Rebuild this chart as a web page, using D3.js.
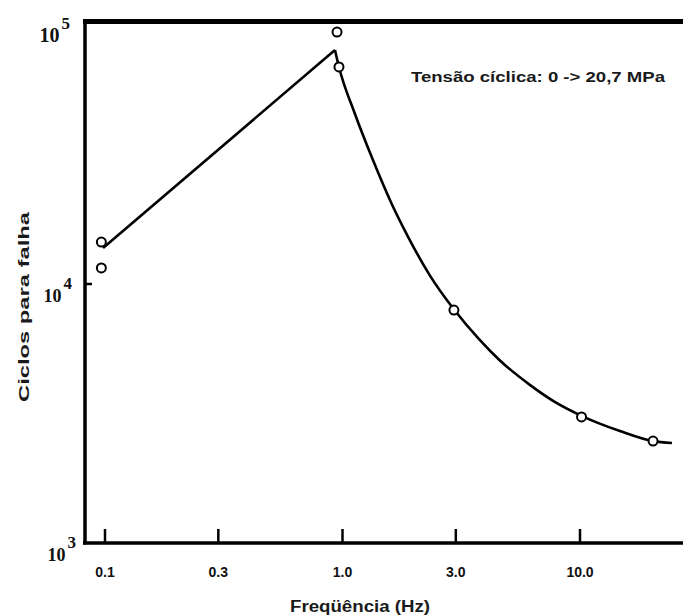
<!DOCTYPE html>
<html>
<head>
<meta charset="utf-8">
<script src="https://cdn.jsdelivr.net/npm/d3@7"></script>
<style>
  body { margin: 0; background: #fff; }
  svg { display: block; }
</style>
</head>
<body>
<svg id="chart" width="683" height="616"></svg>
<script>
// Frequency axis ticks
const tickFreqs = [0.1, 0.3, 1, 3, 10];
const tickLabels = ["0.1", "0.3", "1.0", "3.0", "10.0"];
// Cycles axis: powers of ten shown
const decadeExps = [3, 4, 5];

// Measured specimens (frequency in Hz, cycles to failure)
const obsFreq   = [0.097, 0.097, 0.953, 0.971, 2.96, 10.2, 20.4];
const obsCycles = [14450, 11480, 93100, 68300, 7900, 3060, 2470];

// Rising branch (straight line on log-log axes)
const riseFreq   = [0.0986, 0.934];
const riseCycles = [13700, 79400];

// Falling branch (smooth fitted curve)
const fitFreq   = [0.934, 0.971, 1.13, 1.35, 1.62, 1.9, 2.35, 2.93, 3.8, 4.6, 6.2, 7.9, 10.2, 14.8, 20.4, 24.5];
const fitCycles = [79400, 68300, 45400, 29900, 20250, 15100, 10700, 8040, 6060, 5070, 4060, 3490, 3090, 2700, 2470, 2430];

const annotation = "Tensão cíclica: 0 -> 20,7 MPa";
const xTitle = "Freqüência (Hz)";
const yTitle = "Ciclos para falha";

const svg = d3.select("#chart");

const x = d3.scaleLog().domain([0.1, 10]).range([104.5, 579.5]);
const y = d3.scaleLog().domain([1e3, 1e5]).range([543, 24]);

const frameLeft = 85, frameRight = 683, frameTop = 21.5, frameBottom = 543;

// Frame
svg.append("line").attr("x1", frameLeft).attr("x2", frameLeft)
  .attr("y1", frameTop - 2).attr("y2", frameBottom + 1.5)
  .attr("stroke", "#000").attr("stroke-width", 3.5);
svg.append("line").attr("x1", frameLeft - 2).attr("x2", frameRight)
  .attr("y1", frameBottom).attr("y2", frameBottom)
  .attr("stroke", "#000").attr("stroke-width", 3.5);
svg.append("line").attr("x1", frameLeft - 2).attr("x2", frameRight)
  .attr("y1", frameTop).attr("y2", frameTop)
  .attr("stroke", "#000").attr("stroke-width", 5);

// Bottom axis with inward ticks
const xAxis = d3.axisBottom(x)
  .tickValues(tickFreqs)
  .tickFormat((d, i) => tickLabels[i])
  .tickSizeInner(-14)
  .tickSizeOuter(0)
  .tickPadding(24);
const gx = svg.append("g").attr("transform", `translate(0,${frameBottom})`).call(xAxis);
gx.select(".domain").remove();
gx.selectAll(".tick line").attr("stroke", "#000").attr("stroke-width", 2.5);
gx.selectAll(".tick text")
  .attr("fill", "#111")
  .attr("font-family", "'Liberation Sans Narrow', 'Liberation Sans', Arial, sans-serif")
  .attr("font-weight", "bold")
  .attr("font-size", 14);

// Left axis: single inward tick at 10^4
const yAxis = d3.axisLeft(y)
  .tickValues([1e4])
  .tickFormat(() => "")
  .tickSizeInner(-7)
  .tickSizeOuter(0);
const gy = svg.append("g").attr("transform", `translate(${frameLeft},0)`).call(yAxis);
gy.select(".domain").remove();
gy.selectAll(".tick line").attr("stroke", "#000").attr("stroke-width", 2.5);

// Power-of-ten labels
const labelRight = { 3: 76, 4: 72, 5: 70 };
const labelSize = { 3: 18, 4: 18, 5: 20 };
decadeExps.forEach(e => {
  const t = svg.append("text")
    .attr("x", labelRight[e])
    .attr("y", y(Math.pow(10, e)) + 18)
    .attr("text-anchor", "end")
    .attr("font-family", "'Liberation Serif', 'Times New Roman', serif")
    .attr("font-weight", "bold")
    .attr("font-size", labelSize[e])
    .attr("fill", "#111");
  t.append("tspan").text("10");
  t.append("tspan").attr("dy", -13).attr("dx", 2).attr("font-size", 17).text(String(e));
});

// Rising straight branch
const line = d3.line().x(d => x(d[0])).y(d => y(d[1]));
svg.append("path")
  .datum(d3.zip(riseFreq, riseCycles))
  .attr("d", line)
  .attr("fill", "none").attr("stroke", "#000").attr("stroke-width", 2.6)
  .attr("stroke-linejoin", "miter");

// Falling fitted curve
const curve = d3.line().x(d => x(d[0])).y(d => y(d[1])).curve(d3.curveMonotoneX);
svg.append("path")
  .datum(d3.zip(fitFreq, fitCycles))
  .attr("d", curve)
  .attr("fill", "none").attr("stroke", "#000").attr("stroke-width", 2.6);

// Observations
svg.selectAll("circle.obs")
  .data(d3.zip(obsFreq, obsCycles))
  .join("circle")
  .attr("class", "obs")
  .attr("cx", d => x(d[0]))
  .attr("cy", d => y(d[1]))
  .attr("r", 4.5)
  .attr("fill", "#fff")
  .attr("stroke", "#000")
  .attr("stroke-width", 2);

// Loading note
svg.append("text")
  .attr("x", 411).attr("y", 82)
  .attr("font-family", "'Liberation Sans Narrow', 'Liberation Sans', Arial, sans-serif")
  .attr("font-weight", "bold")
  .attr("font-size", 14)
  .attr("fill", "#1a1a1a")
  .attr("textLength", 254)
  .attr("lengthAdjust", "spacingAndGlyphs")
  .text(annotation);

// Axis titles
svg.append("text")
  .attr("x", 360).attr("y", 612)
  .attr("text-anchor", "middle")
  .attr("font-family", "'Liberation Sans', Arial, sans-serif")
  .attr("font-weight", "bold")
  .attr("font-size", 16)
  .attr("fill", "#1a1a1a")
  .attr("textLength", 140)
  .attr("lengthAdjust", "spacingAndGlyphs")
  .text(xTitle);

svg.append("text")
  .attr("transform", "translate(29,307) rotate(-90)")
  .attr("text-anchor", "middle")
  .attr("font-family", "'Liberation Sans', Arial, sans-serif")
  .attr("font-weight", "bold")
  .attr("font-size", 15)
  .attr("fill", "#1a1a1a")
  .attr("textLength", 190)
  .attr("lengthAdjust", "spacingAndGlyphs")
  .text(yTitle);
</script>
</body>
</html>
